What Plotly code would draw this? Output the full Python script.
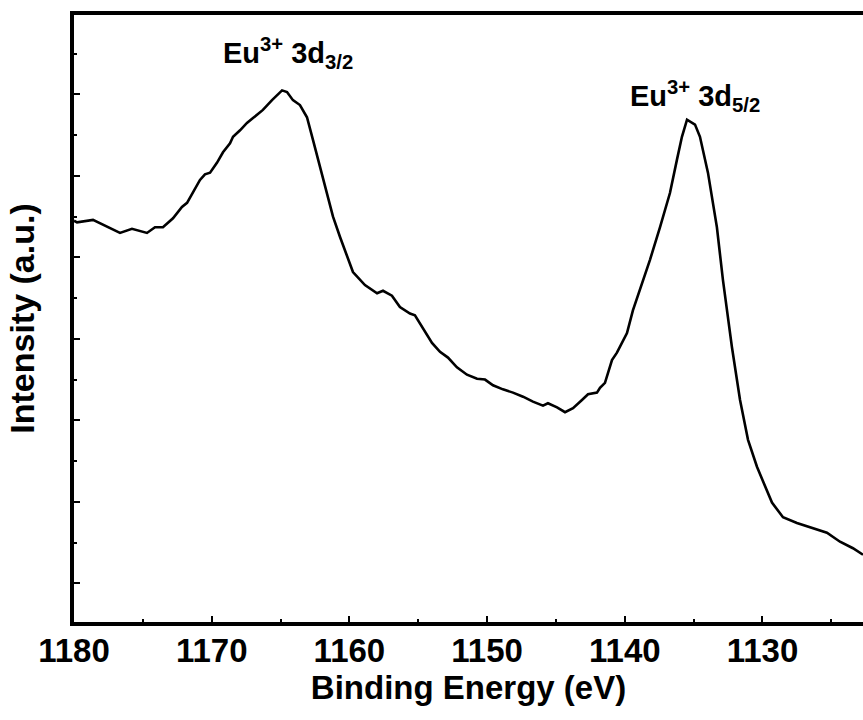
import plotly.graph_objects as go

# Binding energy (eV) and intensity (a.u.)
energy = [1180.00, 1179.78, 1178.62, 1178.11, 1177.39, 1176.66, 1175.79, 1174.70, 1174.12, 1173.54,
          1172.81, 1172.16, 1171.79, 1171.36, 1170.85, 1170.49, 1170.12, 1169.62, 1169.18, 1168.67,
          1168.45, 1167.94, 1167.44, 1167.00, 1166.28, 1165.62, 1164.89, 1164.53, 1164.10, 1163.59,
          1163.08, 1162.64, 1162.14, 1161.63, 1161.19, 1160.68, 1160.18, 1159.74, 1158.87, 1157.99,
          1157.56, 1156.91, 1156.33, 1155.60, 1155.24, 1154.66, 1154.00, 1153.42, 1152.84, 1152.19,
          1151.46, 1150.73, 1150.15, 1149.57, 1148.85, 1148.12, 1147.39, 1146.67, 1145.94, 1145.58,
          1144.92, 1144.34, 1143.76, 1143.11, 1142.67, 1142.02, 1141.80, 1141.44, 1140.93, 1140.57,
          1139.84, 1139.41, 1138.90, 1138.17, 1137.44, 1136.72, 1136.21, 1135.85, 1135.48, 1134.90,
          1134.54, 1133.96, 1133.31, 1132.87, 1132.22, 1131.63, 1131.05, 1130.40, 1129.31, 1128.51,
          1127.50, 1126.33, 1125.32, 1124.37, 1123.43, 1122.70]
intensity = [5.45, 5.43, 5.46, 5.42, 5.36, 5.30, 5.35, 5.30, 5.37, 5.37,
             5.48, 5.62, 5.67, 5.80, 5.95, 6.02, 6.04, 6.16, 6.29, 6.40,
             6.48, 6.56, 6.65, 6.71, 6.81, 6.93, 7.05, 7.03, 6.93, 6.87,
             6.72, 6.44, 6.11, 5.79, 5.50, 5.25, 5.01, 4.82, 4.66, 4.56,
             4.59, 4.53, 4.39, 4.31, 4.29, 4.13, 3.95, 3.84, 3.77, 3.65,
             3.56, 3.51, 3.50, 3.43, 3.38, 3.34, 3.29, 3.23, 3.18, 3.21,
             3.16, 3.10, 3.15, 3.25, 3.32, 3.34, 3.40, 3.46, 3.74, 3.83,
             4.07, 4.35, 4.60, 4.97, 5.37, 5.79, 6.20, 6.48, 6.69, 6.63,
             6.48, 6.04, 5.37, 4.72, 3.90, 3.25, 2.76, 2.43, 1.99, 1.81,
             1.74, 1.68, 1.62, 1.51, 1.43, 1.35]

x_ticks = [1180, 1170, 1160, 1150, 1140, 1130]
peak_labels = ["Eu<sup>3+</sup> 3d<sub>3/2</sub>", "Eu<sup>3+</sup> 3d<sub>5/2</sub>"]
peak_label_x = [1169.35, 1139.75]
peak_label_y = [7.24, 6.71]

FONT = "Liberation Sans, Arial, sans-serif"

fig = go.Figure()
fig.add_trace(go.Scatter(x=energy, y=intensity, mode="lines",
                         line=dict(color="black", width=2.6), showlegend=False))

for txt, xx, yy in zip(peak_labels, peak_label_x, peak_label_y):
    fig.add_annotation(x=xx, y=yy, xref="x", yref="y", text=txt, showarrow=False,
                       xanchor="left", yanchor="bottom",
                       font=dict(family=FONT, size=29, color="black", weight="bold"))

fig.update_layout(
    width=863, height=720,
    margin=dict(l=74, r=0, t=15, b=98),
    paper_bgcolor="white", plot_bgcolor="white",
    font=dict(family=FONT, color="black"),
)
fig.update_xaxes(
    range=[1180.0, 1122.70],
    tickvals=x_ticks, ticktext=[str(v) for v in x_ticks],
    ticks="inside", ticklen=6, tickwidth=2, tickcolor="black",
    minor=dict(dtick=5, tick0=1180, ticks="inside", ticklen=3, tickwidth=2, tickcolor="black"),
    showline=True, linewidth=4, linecolor="black", mirror=True,
    showgrid=False, zeroline=False,
    ticklabelstandoff=-4,
    tickfont=dict(family=FONT, size=33, color="black", weight="bold"),
    title=dict(text="Binding Energy (eV)", standoff=9,
               font=dict(family=FONT, size=33, color="black", weight="bold")),
)
fig.update_yaxes(
    range=[0.5245, 7.975],
    dtick=1, tick0=0,
    ticks="inside", ticklen=6, tickwidth=2, tickcolor="black",
    minor=dict(dtick=0.5, tick0=0, ticks="inside", ticklen=3, tickwidth=2, tickcolor="black"),
    showticklabels=False,
    showline=True, linewidth=4, linecolor="black", mirror=False,
    showgrid=False, zeroline=False,
    title=dict(text="Intensity (a.u.)", standoff=26,
               font=dict(family=FONT, size=34, color="black", weight="bold")),
)

fig.write_html("out.html")
